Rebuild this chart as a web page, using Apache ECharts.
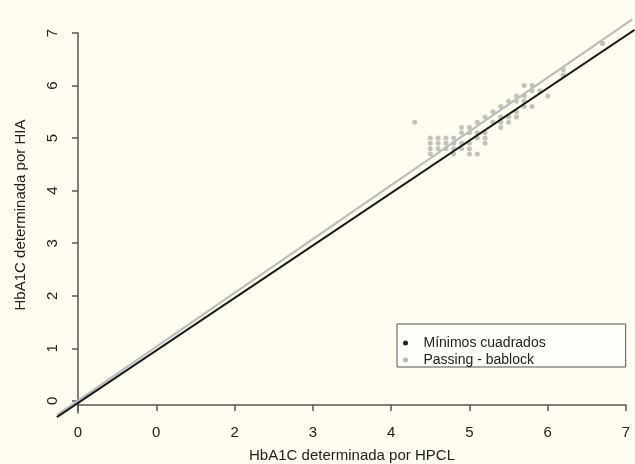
<!DOCTYPE html>
<html>
<head>
<meta charset="utf-8">
<script src="https://cdn.jsdelivr.net/npm/echarts@6/dist/echarts.min.js"></script>
<style>
  html, body { margin: 0; padding: 0; background: #fffdf1; }
  #main { width: 635px; height: 464px; }
</style>
</head>
<body>
<div id="main"></div>
<script>
// etiquetas del eje X tal como aparecen en la figura original
var xTickLabels = ['0', '0', '2', '3', '4', '5', '6', '7'];
var yTickValues = [0, 1, 2, 3, 4, 5, 6, 7];

// pares (HPCL, HIA)
var puntos = [
    [4.3, 5.3],
    [4.5, 5.0], [4.6, 5.0], [4.7, 5.0], [4.8, 5.0], [5.1, 5.0], [5.2, 5.0],
    [4.5, 4.9], [4.6, 4.9], [4.7, 4.9], [4.8, 4.9], [4.9, 4.9], [5.0, 4.9], [5.2, 4.9],
    [4.5, 4.8], [4.6, 4.8], [4.7, 4.8], [4.8, 4.8], [4.9, 4.8], [5.0, 4.8],
    [4.5, 4.7], [4.8, 4.7], [5.0, 4.7], [5.1, 4.7],
    [4.9, 5.1], [5.0, 5.1], [5.1, 5.1], [5.2, 5.1],
    [4.9, 5.2], [5.0, 5.2], [5.4, 5.2],
    [5.1, 5.3], [5.3, 5.3], [5.4, 5.3], [5.5, 5.3],
    [5.2, 5.4], [5.4, 5.4], [5.5, 5.4], [5.6, 5.4],
    [5.3, 5.5], [5.6, 5.5],
    [5.4, 5.6], [5.7, 5.6], [5.8, 5.6],
    [5.5, 5.7], [5.6, 5.7], [5.7, 5.7],
    [5.6, 5.8], [5.7, 5.8], [6.0, 5.8],
    [5.8, 5.9], [5.9, 5.9],
    [5.7, 6.0], [5.8, 6.0],
    [6.2, 6.2], [6.2, 6.3], [6.7, 6.8]
];

// rectas ajustadas (extremos, salen del area de ejes)
var minimosCuadrados = [[-0.27, -0.31], [7.11, 7.06]];
var passingBablock = [[-0.27, -0.27], [7.08, 7.26]];

// rangos
var xMin = 0, xMax = 7, yMin = -0.23, yMax = 7;
var xMinExt = -0.4, xMaxExt = 7.2, yMinExt = -0.5, yMaxExt = 7.4;

// layout del area de ejes visible
var gLeft = 78, gTop = 33, gW = 548, gH = 380;
var pxX = gW / (xMax - xMin), pxY = gH / (yMax - yMin);

var fuente = 'Liberation Sans, Arial, sans-serif';
var myChart = echarts.init(document.getElementById('main'));
var option = {
    backgroundColor: '#fffdf1',
    animation: false,
    textStyle: { fontFamily: fuente },
    grid: [
        { left: gLeft, top: gTop, width: gW, height: gH, outerBoundsMode: 'none' },
        // grid invisible con la misma escala pero mas amplio, para las rectas
        {
            left: gLeft - (xMin - xMinExt) * pxX,
            top: gTop - (yMaxExt - yMax) * pxY,
            width: (xMaxExt - xMinExt) * pxX,
            height: (yMaxExt - yMinExt) * pxY,
            outerBoundsMode: 'none'
        }
    ],
    legend: {
        orient: 'vertical',
        left: 397,
        top: 324,
        padding: [12, 80, 0, 6],
        itemGap: 3,
        itemWidth: 8,
        itemHeight: 5,
        icon: 'circle',
        borderColor: '#555',
        borderWidth: 1,
        backgroundColor: '#fffef8',
        textStyle: { fontSize: 14, lineHeight: 14, color: '#222', fontFamily: fuente, padding: [0, 0, 0, 9] },
        data: [
            { name: 'Mínimos cuadrados', itemStyle: { color: '#222' } },
            { name: 'Passing - bablock', itemStyle: { color: '#b8b8b8' } }
        ]
    },
    xAxis: [{
        type: 'value',
        gridIndex: 0,
        min: xMin,
        max: xMax,
        interval: 1,
        offset: -8,
        name: 'HbA1C determinada por HPCL',
        nameLocation: 'middle',
        nameGap: 43,
        nameTextStyle: { fontSize: 15, color: '#222' },
        axisLine: { onZero: false, lineStyle: { color: '#555', width: 1.5 } },
        axisTick: { length: 6, lineStyle: { color: '#555', width: 1.5 } },
        axisLabel: {
            fontSize: 15, color: '#222', margin: 20,
            formatter: function (v) { return xTickLabels[Math.round(v)]; }
        },
        splitLine: { show: false }
    }, {
        type: 'value', gridIndex: 1, min: xMinExt, max: xMaxExt, show: false
    }],
    yAxis: [{
        type: 'value',
        gridIndex: 0,
        min: yMin,
        max: yMax,
        name: 'HbA1C determinada por HIA',
        nameLocation: 'middle',
        nameGap: 50,
        nameTextStyle: { fontSize: 15, color: '#222', padding: [0, 0, 0, 16] },
        axisLine: { onZero: false, lineStyle: { color: '#555', width: 1.5 } },
        axisTick: { length: 6, customValues: yTickValues, lineStyle: { color: '#555', width: 1.5 } },
        axisLabel: { fontSize: 15, color: '#222', rotate: 90, margin: 18, customValues: yTickValues },
        splitLine: { show: false }
    }, {
        type: 'value', gridIndex: 1, min: yMinExt, max: yMaxExt, show: false
    }],
    series: [
        {
            name: 'datos',
            type: 'scatter',
            data: puntos,
            symbolSize: 5,
            itemStyle: { color: '#b3b3b3' },
            z: 1
        },
        {
            name: 'Passing - bablock',
            type: 'line',
            xAxisIndex: 1,
            yAxisIndex: 1,
            data: passingBablock,
            clip: false,
            showSymbol: false,
            lineStyle: { color: '#bcbcbc', width: 2.2 },
            itemStyle: { color: '#b8b8b8' },
            z: 2
        },
        {
            name: 'Mínimos cuadrados',
            type: 'line',
            xAxisIndex: 1,
            yAxisIndex: 1,
            data: minimosCuadrados,
            clip: false,
            showSymbol: false,
            lineStyle: { color: '#1a1a1a', width: 2 },
            itemStyle: { color: '#222' },
            z: 3
        }
    ]
};
myChart.setOption(option);
</script>
</body>
</html>
